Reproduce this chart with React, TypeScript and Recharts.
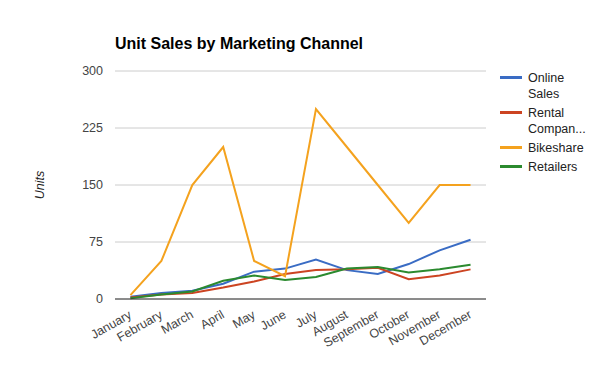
import React from "react";
import {
  LineChart,
  Line,
  XAxis,
  YAxis,
  CartesianGrid,
} from "recharts";

const MONTHS = [
  "January", "February", "March", "April", "May", "June",
  "July", "August", "September", "October", "November", "December",
];

const ONLINE_SALES = [3, 8, 11, 20, 36, 40, 52, 38, 33, 46, 64, 78];
const RENTAL = [2, 6, 8, 15, 23, 33, 38, 39, 41, 26, 31, 39];
const BIKESHARE = [5, 50, 150, 200, 50, 30, 250, 200, 150, 100, 150, 150];
const RETAILERS = [1, 6, 10, 24, 31, 25, 29, 40, 42, 35, 39, 45];

const Y_TICKS = [0, 75, 150, 225, 300];

const SERIES = [
  { key: "online", name: "Online Sales", lines: ["Online", "Sales"], color: "#3a6cc4" },
  { key: "rental", name: "Rental Companies", lines: ["Rental", "Compan..."], color: "#cc4422" },
  { key: "bikeshare", name: "Bikeshare", lines: ["Bikeshare"], color: "#f4a21e" },
  { key: "retailers", name: "Retailers", lines: ["Retailers"], color: "#2b8a2f" },
];

const FONT = "Arial, 'Liberation Sans', sans-serif";

const data = MONTHS.map((m, i) => ({
  month: m,
  online: ONLINE_SALES[i],
  rental: RENTAL[i],
  bikeshare: BIKESHARE[i],
  retailers: RETAILERS[i],
}));

function MonthTick(props: any) {
  const { x, y, payload } = props;
  return (
    <text
      x={x + 2}
      y={y + 10}
      textAnchor="end"
      transform={`rotate(-30 ${x + 2} ${y + 10})`}
      fontSize={12.5}
      fontFamily={FONT}
      fill="#444"
    >
      {payload.value}
    </text>
  );
}

// legend drawn outside the svg so it doesn't eat plot width
function SideLegend() {
  let y = 0;
  return (
    <div style={{ position: "absolute", left: 500, top: 70, fontFamily: FONT, fontSize: 12.5, color: "#222" }}>
      {SERIES.map((s) => {
        const top = y;
        y += s.lines.length * 16 + 3;
        return (
          <div key={s.key} style={{ position: "absolute", top, left: 0, display: "flex", whiteSpace: "nowrap" }}>
            <div style={{ width: 22, height: 3, background: s.color, marginTop: 6, marginRight: 6 }} />
            <div style={{ lineHeight: "16px" }}>
              {s.lines.map((l) => (
                <div key={l}>{l}</div>
              ))}
            </div>
          </div>
        );
      })}
    </div>
  );
}

export default function App() {
  return (
    <div style={{ position: "fixed", top: 0, left: 0, width: 600, height: 371, background: "#fff" }}>
      <div
        style={{
          position: "absolute",
          left: 115,
          top: 35,
          fontFamily: FONT,
          fontWeight: "bold",
          fontSize: 16,
          color: "#000",
        }}
      >
        Unit Sales by Marketing Channel
      </div>
      <div
        style={{
          position: "absolute",
          left: 40,
          top: 185,
          transform: "translate(-50%, -50%) rotate(-90deg)",
          fontFamily: FONT,
          fontStyle: "italic",
          fontSize: 12.5,
          color: "#222",
        }}
      >
        Units
      </div>
      <LineChart
        width={600}
        height={371}
        data={data}
        margin={{ top: 71, right: 114, bottom: 12, left: 75 }}
      >
        <CartesianGrid vertical={false} stroke="#ccc" />
        <XAxis
          dataKey="month"
          scale="band"
          interval={0}
          height={60}
          tickLine={false}
          axisLine={{ stroke: "#333" }}
          tick={<MonthTick />}
        />
        <YAxis
          type="number"
          domain={[0, 300]}
          ticks={Y_TICKS}
          width={40}
          tickLine={false}
          axisLine={false}
          tickSize={0}
          tickMargin={12}
          tick={{ fontSize: 12.5, fill: "#444", fontFamily: FONT }}
        />
        {SERIES.map((s) => (
          <Line
            key={s.key}
            type="linear"
            dataKey={s.key}
            name={s.name}
            stroke={s.color}
            strokeWidth={2}
            dot={false}
            isAnimationActive={false}
          />
        ))}
      </LineChart>
      <SideLegend />
    </div>
  );
}
